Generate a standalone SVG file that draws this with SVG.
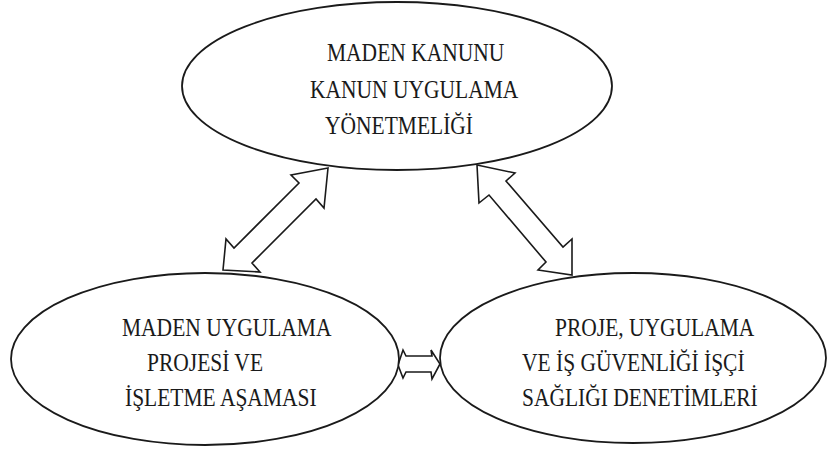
<svg xmlns="http://www.w3.org/2000/svg" width="828" height="453" viewBox="0 0 828 453">
  <style>
    .node { fill: #ffffff; stroke: #1a1a1a; stroke-width: 1.8; }
    .arrow { fill: #ffffff; stroke: #1a1a1a; stroke-width: 1.6; stroke-linejoin: miter; }
    text { font-family: "Liberation Serif", "Times New Roman", serif; font-size: 21.5px; fill: #1a1a1a; }
  </style>
  <rect width="828" height="453" fill="#ffffff"/>

  <!-- block arrows between the three stages -->
  <g id="connectors">
    <polygon class="arrow" points="328,168 291,175 299,183 234,248 226,239 223,270 260,272 252,263 316,199 324,208"/>
    <polygon class="arrow" points="477,165 515,173 506,181 563,247 572,239 572,275 538,270 546,262 489,195 479,203"/>
    <polygon class="arrow" points="398,365 403,350 406,356 432,356 431,350 440,364 432,379 431,372 406,372 403,378"/>
  </g>

  <!-- labels are set slightly tall: scale(1,1.18) about each baseline -->
  <g id="law">
    <ellipse class="node" cx="397" cy="86" rx="215" ry="84"/>
    <text transform="translate(327,61) scale(1,1.18)">MADEN KANUNU</text>
    <text transform="translate(310,98) scale(1,1.18)">KANUN UYGULAMA</text>
    <text transform="translate(325,134) scale(1,1.18)">YÖNETMELİĞİ</text>
  </g>

  <g id="operation">
    <ellipse class="node" cx="205" cy="359" rx="194" ry="86"/>
    <text transform="translate(122,336) scale(1,1.18)">MADEN UYGULAMA</text>
    <text transform="translate(147,371) scale(1,1.18)">PROJESİ VE</text>
    <text transform="translate(125,406) scale(1,1.18)">İŞLETME AŞAMASI</text>
  </g>

  <g id="inspection">
    <ellipse class="node" cx="633" cy="358" rx="193" ry="85"/>
    <text transform="translate(555,336) scale(1,1.18)">PROJE, UYGULAMA</text>
    <text transform="translate(522,371) scale(1,1.18)">VE İŞ GÜVENLİĞİ İŞÇİ</text>
    <text transform="translate(522,406) scale(1,1.18)">SAĞLIĞI DENETİMLERİ</text>
  </g>
</svg>
